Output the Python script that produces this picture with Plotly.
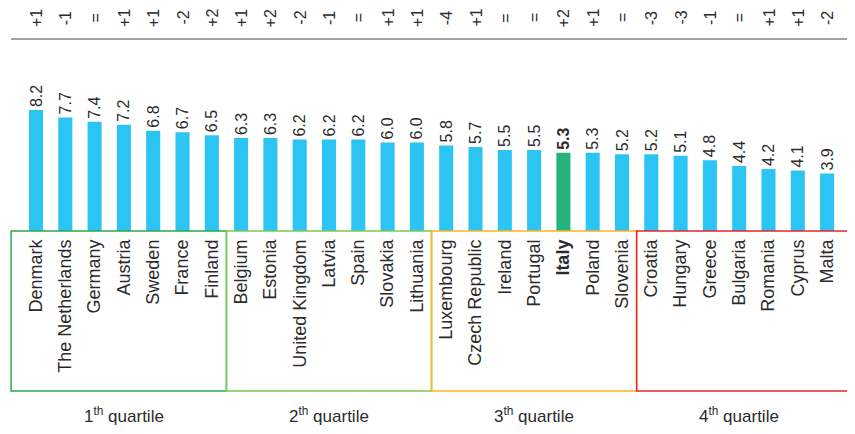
import plotly.graph_objects as go

countries = ["Denmark", "The Netherlands", "Germany", "Austria", "Sweden", "France", "Finland",
             "Belgium", "Estonia", "United Kingdom", "Latvia", "Spain", "Slovakia", "Lithuania",
             "Luxembourg", "Czech Republic", "Ireland", "Portugal", "Italy", "Poland", "Slovenia",
             "Croatia", "Hungary", "Greece", "Bulgaria", "Romania", "Cyprus", "Malta"]
values = [8.2, 7.7, 7.4, 7.2, 6.8, 6.7, 6.5,
          6.3, 6.3, 6.2, 6.2, 6.2, 6.0, 6.0,
          5.8, 5.7, 5.5, 5.5, 5.3, 5.3, 5.2,
          5.2, 5.1, 4.8, 4.4, 4.2, 4.1, 3.9]
changes = ["+1", "-1", "=", "+1", "+1", "-2", "+2",
           "+1", "+2", "-2", "-1", "=", "+1", "+1",
           "-4", "+1", "=", "=", "+2", "+1", "=",
           "-3", "-3", "-1", "=", "+1", "+1", "-2"]
quartile_labels = ["1<sup>th</sup> quartile", "2<sup>th</sup> quartile",
                   "3<sup>th</sup> quartile", "4<sup>th</sup> quartile"]
quartile_colors = ["#2CA84E", "#7CC85A", "#F6B61C", "#E5252A"]
highlight = "Italy"

# page body adds an 8px margin, so the figure is offset by 8px
W, H = 847, 418
PLOT_H = 223
STEP = 29.3          # px per category
FONT = "Liberation Sans, Arial, sans-serif"
TXT = "#2b2b2b"
n = len(countries)
x0_off = -28 / STEP
xr = [x0_off, x0_off + W / STEP]

def xp(v):
    return (v - xr[0]) / (xr[1] - xr[0])

def yp(px):  # figure pixel (from top) -> paper y
    return (PLOT_H - px) / PLOT_H

bar_colors = ["#24B37A" if c == highlight else "#2CC4F3" for c in countries]
bar_text = [f"<b>{v:.1f}</b>" if c == highlight else f"{v:.1f}" for c, v in zip(countries, values)]
tick_text = [f"<b>{c}</b>" if c == highlight else c for c in countries]

fig = go.Figure(go.Bar(
    x=list(range(n)), y=values, marker_color=bar_colors, marker_line_width=0,
    text=bar_text, textposition="outside", textangle=-90, cliponaxis=False,
    constraintext="none",
    textfont=dict(family=FONT, size=16, color=TXT), hoverinfo="skip"))

shapes = []
annotations = []
shapes.append(dict(type="line", xref="paper", yref="paper", x0=xp(-0.85), x1=xp(n - 1 + 0.85),
                   y0=yp(31), y1=yp(31), line=dict(color="#444444", width=1)))
per = n // 4
for q in range(4):
    a = q * per - 0.5
    b = (q + 1) * per - 0.5
    if q == 0:
        a = -0.85
    if q == 3:
        b = n - 1 + 0.85
    shapes.append(dict(type="rect", xref="paper", yref="paper", x0=xp(a), x1=xp(b),
                       y0=yp(383), y1=yp(PLOT_H), line=dict(color=quartile_colors[q], width=1.5),
                       layer="above"))
    annotations.append(dict(xref="paper", yref="paper", x=xp((q * per + (q + 1) * per - 1) / 2),
                            y=yp(407), xanchor="center", yanchor="middle",
                            text=quartile_labels[q], showarrow=False,
                            font=dict(family=FONT, size=17, color=TXT)))
for i, ch in enumerate(changes):
    annotations.append(dict(xref="x", yref="paper", x=i, y=yp(10), xanchor="center",
                            yanchor="middle", text=ch, showarrow=False,
                            textangle=-90, font=dict(family=FONT, size=16, color=TXT)))

fig.update_layout(
    width=W, height=H, margin=dict(l=0, r=0, t=0, b=H - PLOT_H, autoexpand=False),
    paper_bgcolor="white", plot_bgcolor="white", bargap=0.52, showlegend=False,
    xaxis=dict(range=xr, tickmode="array", tickvals=list(range(n)), ticktext=tick_text,
               tickangle=-90, showgrid=False, zeroline=False, showline=False, ticks="",
               tickfont=dict(family=FONT, size=18, color=TXT), ticklabelstandoff=4),
    yaxis=dict(range=[0, PLOT_H / 14.75], visible=False, showgrid=False, zeroline=False),
    shapes=shapes, annotations=annotations)

fig.write_html("out.html")
